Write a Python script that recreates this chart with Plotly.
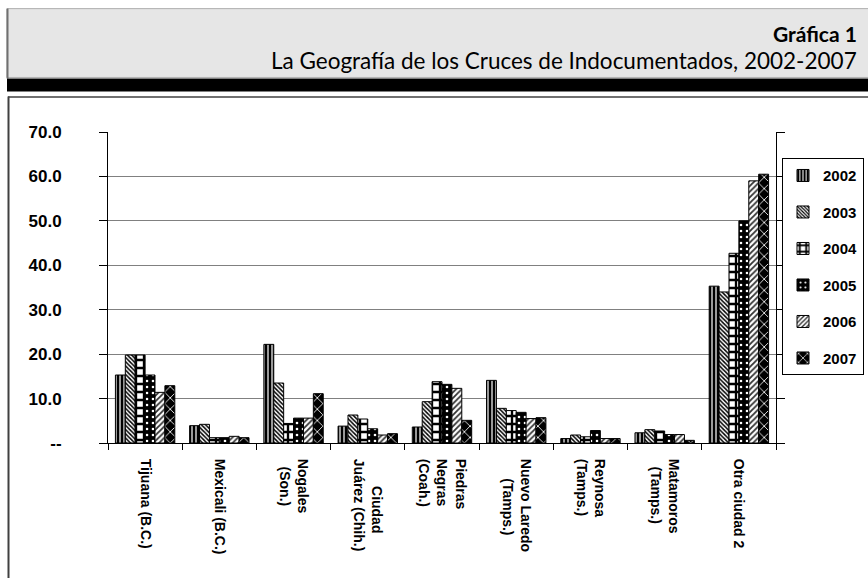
import plotly.graph_objects as go

categories = ["Tijuana", "Mexicali", "Nogales", "Ciudad Juárez", "Piedras Negras",
              "Nuevo Laredo", "Reynosa", "Matamoros", "Otra ciudad 2"]
tick_labels = ["Tijuana (B.C.)", "Mexicali (B.C.)", "Nogales<br>\u00a0\u00a0(Son.)",
               "\u00a0\u00a0\u00a0\u00a0\u00a0\u00a0\u00a0Ciudad<br>Juárez (Chih.)",
               "Piedras<br>Negras<br>(Coah.)", "Nuevo Laredo<br>\u00a0\u00a0\u00a0\u00a0\u00a0(Tamps.)",
               "Reynosa<br>(Tamps.)", "Matamoros<br>\u00a0\u00a0(Tamps.)", "Otra ciudad 2"]
years = ["2002", "2003", "2004", "2005", "2006", "2007"]
v2002 = [15.3, 3.9, 22.2, 3.8, 3.6, 14.1, 1.0, 2.3, 35.3]
v2003 = [19.8, 4.2, 13.5, 6.3, 9.3, 7.8, 1.8, 3.0, 34.0]
v2004 = [19.8, 1.2, 4.4, 5.4, 13.8, 7.3, 1.4, 2.7, 42.7]
v2005 = [15.3, 1.2, 5.6, 3.2, 13.2, 6.9, 2.8, 1.9, 50.0]
v2006 = [11.4, 1.5, 5.6, 1.8, 12.3, 5.5, 1.0, 1.9, 59.0]
v2007 = [12.9, 1.2, 11.1, 2.1, 5.1, 5.7, 1.0, 0.6, 60.5]
series = [v2002, v2003, v2004, v2005, v2006, v2007]
y_ticks = [0, 10, 20, 30, 40, 50, 60, 70]
y_ticktext = ["--", "10.0", "20.0", "30.0", "40.0", "50.0", "60.0", "70.0"]

patterns = [
    dict(shape="|", fgcolor="black", bgcolor="white", size=4, solidity=0.7),
    dict(shape="\\", fgcolor="black", bgcolor="white", size=3, solidity=0.5),
    dict(shape="+", fgcolor="black", bgcolor="white", size=8, solidity=0.5),
    dict(shape=".", fgcolor="white", bgcolor="black", size=6, solidity=0.15),
    dict(shape="/", fgcolor="#333333", bgcolor="white", size=4, solidity=0.45),
    dict(shape="x", fgcolor="white", bgcolor="black", size=8, solidity=0.2),
]

W, H = 868, 578
L, R, T, B = 108, 776, 131.7, 443.5

fig = go.Figure()
for i, (yr, vals) in enumerate(zip(years, series)):
    fig.add_trace(go.Bar(
        x=categories, y=vals, name=yr, legendgroup=yr,
        marker=dict(color="white", line=dict(color="black", width=1),
                    pattern=dict(fillmode="replace", **patterns[i])),
    ))

def px(xp):
    return (xp - L) / (R - L)

def py(yp):
    return (B - yp) / (B - T)

shapes = [
    dict(type="rect", xref="paper", yref="paper", x0=px(7), x1=px(870), y0=py(77), y1=py(8),
         fillcolor="#e6e6e6", line=dict(color="#b0b0b0", width=1), layer="below"),
    dict(type="line", xref="paper", yref="paper", x0=px(7.5), x1=px(7.5), y0=py(78), y1=py(8),
         line=dict(color="#707070", width=2)),
    dict(type="rect", xref="paper", yref="paper", x0=px(7), x1=px(870), y0=py(91), y1=py(78),
         fillcolor="black", line=dict(width=0)),
    dict(type="line", xref="paper", yref="paper", x0=px(8), x1=px(870), y0=py(96.5), y1=py(96.5),
         line=dict(color="#404040", width=1.5)),
    dict(type="line", xref="paper", yref="paper", x0=px(8.5), x1=px(8.5), y0=py(96), y1=py(580),
         line=dict(color="#404040", width=2)),
]

annotations = [
    dict(text="<b>Gráfica 1</b>", xref="paper", yref="paper", x=px(859), y=py(33),
         xanchor="right", yanchor="middle", showarrow=False,
         font=dict(family="Lato", size=21, color="black")),
    dict(text="La Geografía de los Cruces de Indocumentados, 2002-2007", xref="paper", yref="paper",
         x=px(859), y=py(60), xanchor="right", yanchor="middle", showarrow=False,
         font=dict(family="Lato", size=22.5, color="black")),
]

fig.update_layout(
    width=W, height=H,
    margin=dict(l=L, r=W - R, t=T, b=H - B, pad=0, autoexpand=False),
    paper_bgcolor="white", plot_bgcolor="white",
    barmode="group", bargap=0.2, bargroupgap=0,
    shapes=shapes, annotations=annotations,
    showlegend=True,
    legend=dict(x=px(782), y=py(158), xanchor="left", yanchor="top",
                bordercolor="black", borderwidth=1, bgcolor="white",
                font=dict(family="Liberation Sans", size=15, color="black", weight="bold"),
                tracegroupgap=14, itemwidth=30),
    font=dict(family="Liberation Sans", color="black"),
    hovermode=False,
)
fig.update_xaxes(
    type="category", tickvals=categories, ticktext=tick_labels, tickangle=90,
    tickson="boundaries", ticks="outside", ticklen=6, tickcolor="black",
    showline=True, linecolor="black", linewidth=1,
    tickfont=dict(family="Liberation Sans", size=14, color="black", weight="bold"),
    ticklabelstandoff=12,
)
fig.update_yaxes(
    range=[0, 70], tickvals=y_ticks, ticktext=y_ticktext,
    ticks="outside", ticklen=8, tickcolor="black",
    showline=True, linecolor="black", linewidth=1, mirror="ticks",
    showgrid=True, gridcolor="#808080", gridwidth=1,
    tickfont=dict(family="Liberation Sans", size=17, color="black", weight="bold"),
    ticklabelstandoff=34, zeroline=False,
)

fig.write_html("out.html", config={"displayModeBar": False},
               post_script="document.body.style.margin='0';document.body.style.padding='0';")
